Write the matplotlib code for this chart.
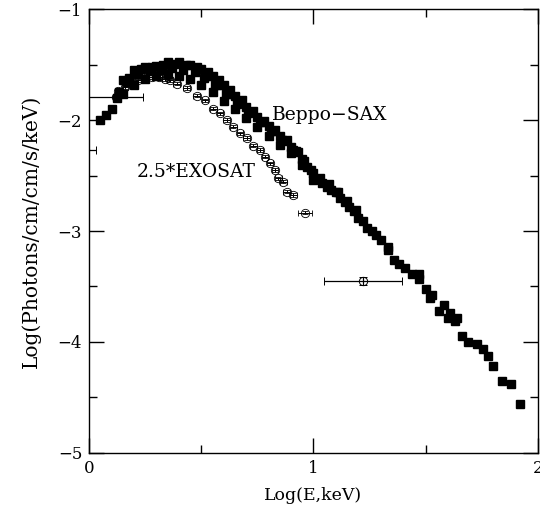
import numpy as np
import matplotlib
matplotlib.use("Agg")
import matplotlib.pyplot as plt
from matplotlib.ticker import MultipleLocator

plt.rcParams['font.family'] = ['DejaVu Serif']

# Beppo-SAX spectrum (log E, log flux)
sax_x = [0.05, 0.075, 0.10, 0.125, 0.135,
         0.15, 0.15, 0.17, 0.18, 0.20, 0.20, 0.22, 0.23, 0.25, 0.25, 0.27, 0.28,
         0.30, 0.30, 0.32, 0.33, 0.35, 0.35, 0.37, 0.38, 0.40, 0.40, 0.42, 0.43,
         0.45, 0.45, 0.47, 0.48, 0.50, 0.50, 0.52, 0.53, 0.55, 0.55, 0.57, 0.58,
         0.60, 0.60, 0.62, 0.63, 0.65, 0.65, 0.67, 0.68, 0.70, 0.70, 0.72, 0.73,
         0.75, 0.75, 0.77, 0.78, 0.80, 0.80, 0.82, 0.83, 0.85, 0.85, 0.87, 0.88,
         0.90, 0.90, 0.92, 0.93, 0.95, 0.95, 0.97, 1.00, 1.00,
         0.51, 0.56, 0.61, 0.66, 0.71, 0.76, 0.81, 0.86, 0.91, 0.96, 0.99, 1.03,
         1.07, 1.11, 1.15, 1.19,
         1.02, 1.04, 1.06, 1.08, 1.10, 1.12, 1.14, 1.16, 1.18, 1.20, 1.22, 1.24,
         1.26, 1.28, 1.30, 1.33, 1.33, 1.36, 1.38, 1.41, 1.44, 1.47, 1.47, 1.50,
         1.52, 1.53, 1.56, 1.58, 1.60, 1.61, 1.63, 1.64, 1.66, 1.69, 1.73, 1.755,
         1.78, 1.80, 1.84, 1.88, 1.92]
sax_y = [-2.00, -1.95, -1.90, -1.80, -1.75,
         -1.64, -1.76, -1.66, -1.62, -1.55, -1.68, -1.58, -1.54, -1.52, -1.63, -1.56, -1.52,
         -1.51, -1.60, -1.55, -1.50, -1.48, -1.58, -1.53, -1.49, -1.48, -1.60, -1.55, -1.50,
         -1.50, -1.63, -1.57, -1.52, -1.54, -1.68, -1.60, -1.57, -1.60, -1.75, -1.68, -1.64,
         -1.68, -1.83, -1.76, -1.73, -1.78, -1.90, -1.84, -1.82, -1.88, -1.98, -1.93, -1.92,
         -1.97, -2.06, -2.02, -2.01, -2.05, -2.14, -2.10, -2.09, -2.14, -2.22, -2.19, -2.18,
         -2.24, -2.30, -2.28, -2.29, -2.35, -2.40, -2.42, -2.48, -2.54,
         -1.62, -1.68, -1.76, -1.85, -1.94, -2.02, -2.10, -2.18, -2.27, -2.37, -2.45, -2.52,
         -2.58, -2.65, -2.73, -2.81,
         -2.53, -2.57, -2.60, -2.63, -2.65, -2.70, -2.74, -2.78, -2.82, -2.88, -2.91, -2.97,
         -3.00, -3.04, -3.08, -3.14, -3.17, -3.26, -3.30, -3.33, -3.39, -3.43, -3.39, -3.52,
         -3.60, -3.58, -3.72, -3.67, -3.78, -3.74, -3.81, -3.78, -3.95, -4.00, -4.02, -4.06,
         -4.13, -4.22, -4.35, -4.38, -4.56]

# EXOSAT spectrum (scaled by 2.5)
exo_x = [0.13, 0.16, 0.19, 0.22, 0.25, 0.28, 0.31, 0.34, 0.36,
         0.39, 0.435, 0.48, 0.517, 0.554, 0.584, 0.613, 0.643, 0.673, 0.702,
         0.732, 0.762, 0.784, 0.806, 0.829, 0.843, 0.866, 0.88, 0.91, 0.962]
exo_y = [-1.74, -1.70, -1.67, -1.64, -1.62, -1.61, -1.61, -1.63, -1.64,
         -1.67, -1.71, -1.78, -1.82, -1.895, -1.94, -2.00, -2.06, -2.12, -2.16,
         -2.23, -2.27, -2.33, -2.39, -2.45, -2.525, -2.556, -2.646, -2.676, -2.835]
exo_xerr = [0.015] * 28 + [0.03]

# EXOSAT points with wide energy bins
wide_x = [-0.02, 0.12, 1.22]
wide_y = [-2.27, -1.79, -3.45]
wide_xerr = [0.05, 0.12, 0.175]
wide_yerr = [0.02, 0.0, 0.04]

fig = plt.figure(figsize=(5.4, 5.14), dpi=100)
ax = fig.add_axes([0.165, 0.119, 0.831, 0.863])

ax.errorbar(sax_x, sax_y, xerr=0.012, yerr=0.025, fmt='s', ms=5.5,
            mfc='black', mec='black', ecolor='0.4', elinewidth=0.7,
            capsize=2, zorder=3)
ax.errorbar(exo_x, exo_y, xerr=exo_xerr, yerr=0.015, fmt='o', ms=6,
            mfc='none', mec='black', mew=0.6, ecolor='black', elinewidth=0.7,
            capsize=2, zorder=2)
ax.errorbar(wide_x, wide_y, xerr=wide_xerr, yerr=wide_yerr, fmt='o', ms=6,
            mfc='none', mec='black', mew=0.7, ecolor='black', elinewidth=0.9,
            capsize=3, zorder=2)

ax.text(0.815, -1.955, 'Beppo\u2212SAX', fontsize=13.5, va='center', ha='left')
ax.text(0.21, -2.47, '2.5*EXOSAT', fontsize=13.5, va='center', ha='left')

ax.set_xlim(0, 2)
ax.set_ylim(-5, -1)
ax.xaxis.set_major_locator(MultipleLocator(1))
ax.xaxis.set_minor_locator(MultipleLocator(0.5))
ax.yaxis.set_major_locator(MultipleLocator(1))
ax.yaxis.set_minor_locator(MultipleLocator(0.5))
ax.tick_params(which='both', direction='in', top=True, right=True,
               labelsize=12, width=1)
ax.tick_params(which='major', length=11, pad=5)
ax.tick_params(which='minor', length=6)
for s in ax.spines.values():
    s.set_linewidth(1)

ax.set_xlabel('Log(E,keV)', fontsize=12.5, labelpad=7)
ax.set_ylabel('Log(Photons/cm/cm/s/keV)', fontsize=14.5, labelpad=12)

fig.savefig('out.png', dpi=100)
